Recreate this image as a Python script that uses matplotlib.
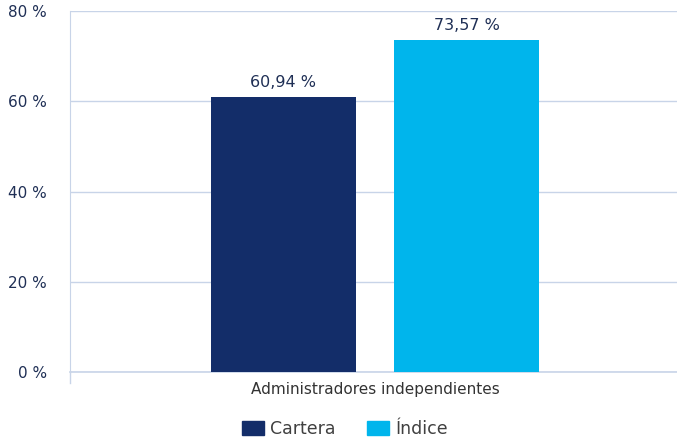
import matplotlib.pyplot as plt
from matplotlib.patches import Patch

categories = ["Administradores independientes"]
series = ["Cartera", "Índice"]
values = [60.94, 73.57]
colors = ["#132d69", "#00b5ec"]
yticks = [0, 20, 40, 60, 80]

plt.rcParams["font.family"] = ["DejaVu Sans"]
grid_color = "#c8d4e8"
text_color = "#1f2f55"

fig = plt.figure(figsize=(6.77, 4.41), dpi=100)
ax = fig.add_axes([70 / 677, 1 - 372 / 441, 607 / 677, 361 / 441])

width = 0.239
offsets = [-0.151, 0.151]
for name, val, col, off in zip(series, values, colors, offsets):
    ax.bar(off, val, width=width, color=col, label=name, zorder=3)
    ax.text(off, val + 1.6, f"{val:.2f} %".replace(".", ","), ha="center",
            va="bottom", fontsize=11.5, color=text_color)

ax.set_xlim(-0.5025, 0.4975)
ax.set_ylim(0, 80)
ax.set_yticks(yticks)
ax.set_yticklabels([f"{t} %" for t in yticks], fontsize=11, color=text_color)
ax.tick_params(axis="y", length=0, pad=16.5)
ax.set_xticks([0])
ax.set_xticklabels(categories, fontsize=11, color="#333333")
ax.tick_params(axis="x", length=0, pad=7)
ax.grid(axis="y", color=grid_color, linewidth=1, zorder=0)
ax.axhline(0, color=grid_color, linewidth=1.2, zorder=2, clip_on=False)
for s in ["top", "right", "bottom"]:
    ax.spines[s].set_visible(False)
ax.spines["left"].set_color(grid_color)
ax.plot([0, 0], [-2.4, 0], color=grid_color, lw=1, transform=ax.get_yaxis_transform(),
        clip_on=False)

handles = [Patch(color=c, label=n) for n, c in zip(series, colors)]
fig.legend(handles=handles, loc="center", bbox_to_anchor=(345 / 677, 1 - 429 / 441),
           ncol=2, frameon=False, fontsize=12.5, labelcolor="#404040",
           handlelength=1.27, handleheight=0.92, columnspacing=1.8, handletextpad=0.35)

fig.savefig("out.png", dpi=100)
